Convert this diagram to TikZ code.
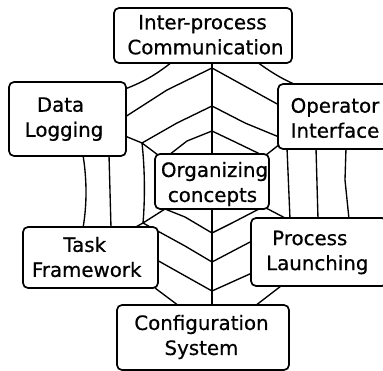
\documentclass[tikz,border=0pt]{standalone}
\usepackage{fontspec}
\setmainfont[FakeBold=0.6]{DejaVu Sans}
\begin{document}
\begin{tikzpicture}[x=1pt,y=-1pt,
  box/.style={draw, line width=1.7pt, rounded corners=5pt, fill=white, inner sep=0pt},
  web/.style={line width=1.35pt, line join=round},
  lbl/.style={align=center, inner sep=0pt, font=\fontsize{19.8}{25}\selectfont}]
\useasboundingbox (0,0) rectangle (383,371);
\clip (0,0) rectangle (383,371);
% spokes (centre vertical)
\draw[web] (212,62) -- (212,155);
\draw[web] (212,208) -- (212,306);
% upper web
\draw[web] (172,62) .. controls (158,73) and (146,81) .. (125,89);
\draw[web] (257,62) .. controls (268,70) and (280,78) .. (294,84);
\draw[web] (125,117) -- (167,90) -- (212,68) -- (279,105);
\draw[web] (142,143) -- (177,123) -- (212,106) -- (245,123) -- (279,137);
\draw[web] (169,155) -- (187,141) -- (212,131) -- (233,141) -- (262,155);
\draw[web] (125,136) -- (142,143) -- (158,155);
\draw[web] (280,144) -- (266,155);
% side verticals
\draw[web] (83,155) .. controls (87,180) and (87,205) .. (83,228);
\draw[web] (109,155) -- (111,228);
\draw[web] (142,143) .. controls (145,170) and (145,200) .. (143,223);
\draw[web] (287,148) -- (290,219);
\draw[web] (316,148) -- (318,219);
\draw[web] (346,148) -- (345,180) -- (349,219);
% lower web
\draw[web] (134,228) -- (143,223) -- (165,209);
\draw[web] (165,209) -- (185,217) -- (212,233) -- (232,223) -- (259,209);
\draw[web] (143,223) -- (185,246) -- (212,262) -- (252,241);
\draw[web] (155,259) -- (212,291) -- (252,273);
\draw[web] (155,288) -- (179,306);
\draw[web] (255,306) -- (281,286);
\draw[web] (266,208) -- (287,219);
% boxes
\node[box, minimum width=178pt, minimum height=55pt] (ipc) at (203,35.5) {};
\node[box, minimum width=117pt, minimum height=74pt] (dl) at (67.5,119) {};
\node[box, minimum width=114pt, minimum height=65pt] (oi) at (335,116.5) {};
\node[box, minimum width=114pt, minimum height=55pt] (org) at (212,181.5) {};
\node[box, minimum width=135pt, minimum height=61pt] (tf) at (90.5,257.5) {};
\node[box, minimum width=136pt, minimum height=68pt] (pl) at (319,252) {};
\node[box, minimum width=172pt, minimum height=65pt] (cs) at (203,337.5) {};
% texts
\node[lbl] (ipct) at (205.5,34.7) {Inter-process\rule{6pt}{0pt}\\Communication};
\node[lbl] (dlt) at (64,119.1) {Data\rule{7pt}{0pt}\\Logging};
\node[lbl] (oit) at (335,118) {Operator\\Interface};
\node[lbl] (orgt) at (214.5,184) {Organizing\\concepts\rule{4pt}{0pt}};
\node[lbl] (tft) at (86.7,257) {Task\rule{4pt}{0pt}\\Framework};
\node[lbl] (plt) at (317.3,252.5) {Process\rule{15pt}{0pt}\\Launching};
\node[lbl] (cst) at (201.5,337) {Configuration\\System};
\end{tikzpicture}
\end{document}
